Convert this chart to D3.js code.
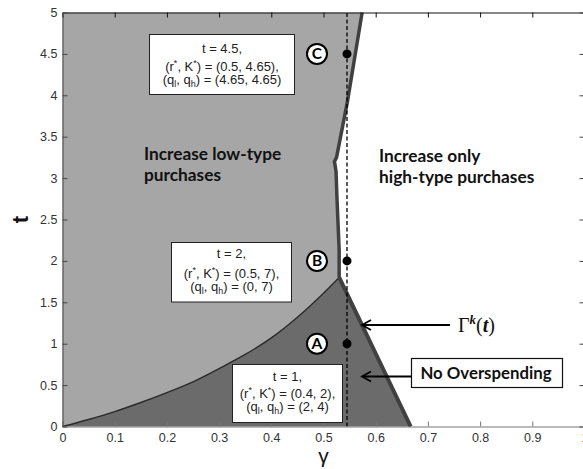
<!DOCTYPE html>
<html>
<head>
<meta charset="utf-8">
<script src="https://cdn.jsdelivr.net/npm/d3@7"></script>
<style>
  html, body { margin: 0; padding: 0; background: #fff; }
  svg { display: block; }
</style>
</head>
<body>
<svg id="chart" width="583" height="469"></svg>
<script>
// ---------- data ----------
const xTickValues = [0, 0.1, 0.2, 0.3, 0.4, 0.5, 0.6, 0.7, 0.8, 0.9, 1];
const xTickLabels = ["0", "0.1", "0.2", "0.3", "0.4", "0.5", "0.6", "0.7", "0.8", "0.9", "1"];
const yTickValues = [0, 0.5, 1, 1.5, 2, 2.5, 3, 3.5, 4, 4.5, 5];
const yTickLabels = ["0", "0.5", "1", "1.5", "2", "2.5", "3", "3.5", "4", "4.5", "5"];

// lower boundary (dark region top): gamma -> t
const lowerGamma = [0, 0.05, 0.1, 0.15, 0.2, 0.25, 0.3, 0.35, 0.4, 0.45, 0.5, 0.53];
const lowerT     = [0, 0.085, 0.18, 0.29, 0.41, 0.54, 0.70, 0.87, 1.07, 1.32, 1.61, 1.80];

// upper boundary (light region right edge), from kink upward
const upperGamma = [0.53, 0.530, 0.526, 0.524, 0.521, 0.525, 0.546, 0.574];
const upperT     = [1.80, 2.13, 2.73, 3.08, 3.20, 3.25, 3.93, 5.0];

// Gamma^k(t) line, from kink down to axis
const gammaLineGamma = [0.53, 0.667];
const gammaLineT     = [1.80, 0];

// scenario points
const pointGamma = [0.545, 0.545, 0.545];
const pointT     = [1, 2, 4.5];
const pointNames = ["A", "B", "C"];
const dashedGamma = 0.545;

// annotation boxes text
const boxT     = ["1", "2", "4.5"];
const boxRK    = ["(0.4, 2),", "(0.5, 7),", "(0.5, 4.65),"];
const boxQ     = ["(2, 4)", "(0, 7)", "(4.65, 4.65)"];

// ---------- layout ----------
const svg = d3.select("#chart");
const x = d3.scaleLinear().domain([0, 1]).range([62.5, 584.5]);
const y = d3.scaleLinear().domain([0, 5]).range([426.5, 12.5]);

const LIGHT = "#a6a6a6", DARK = "#6b6b6b", EDGE = "#404040";

const lowerPts = lowerGamma.map((g, i) => [g, lowerT[i]]);
const upperPts = upperGamma.map((g, i) => [g, upperT[i]]);
const gPts = gammaLineGamma.map((g, i) => [g, gammaLineT[i]]);

const line = d3.line().x(d => x(d[0])).y(d => y(d[1]));
const curveLine = d3.line().x(d => x(d[0])).y(d => y(d[1])).curve(d3.curveMonotoneX);
const lowerPath = curveLine(lowerPts);

// light region: top-left
const lightD = `M${x(0)},${y(5)}L${x(0)},${y(0)}` + lowerPath.replace(/^M/, "L") +
  upperPts.slice(1).map(p => `L${x(p[0])},${y(p[1])}`).join("") + "Z";
svg.append("path").attr("d", lightD).attr("fill", LIGHT);

// dark region
const darkD = lowerPath + `L${x(gPts[1][0])},${y(gPts[1][1])}L${x(0)},${y(0)}Z`;
svg.append("path").attr("d", darkD).attr("fill", DARK);

// lower curve
svg.append("path")
  .attr("d", lowerPath)
  .attr("fill", "none").attr("stroke", "#2a2a2a").attr("stroke-width", 1.4);

// upper boundary thick line
svg.append("path")
  .attr("d", line(upperPts))
  .attr("fill", "none").attr("stroke", EDGE).attr("stroke-width", 3.5)
  .attr("stroke-linejoin", "miter");

// Gamma line
svg.append("path")
  .attr("d", line(gPts))
  .attr("fill", "none").attr("stroke", EDGE).attr("stroke-width", 4);

// dashed vertical line
svg.append("line")
  .attr("x1", x(dashedGamma)).attr("x2", x(dashedGamma))
  .attr("y1", y(0)).attr("y2", y(5))
  .attr("stroke", "#000").attr("stroke-width", 1.3)
  .attr("stroke-dasharray", "4,2.5");

// ---------- axes ----------
const axisFont = "Liberation Sans, Arial, sans-serif";
function styleAxis(g, color) {
  g.selectAll("path.domain").attr("stroke", color);
  g.selectAll(".tick line").attr("stroke", color);
  g.selectAll(".tick text").attr("fill", "#333").style("font-family", axisFont).style("font-size", "12.5px");
}
const gb = svg.append("g").attr("transform", `translate(0,${y(0)})`)
  .call(d3.axisBottom(x).tickValues(xTickValues).tickFormat((d, i) => xTickLabels[i])
    .tickSizeInner(-5).tickSizeOuter(0).tickPadding(7));
styleAxis(gb, "#777");
const gt = svg.append("g").attr("transform", `translate(0,${y(5)})`)
  .call(d3.axisTop(x).tickValues(xTickValues).tickFormat("").tickSizeInner(-5).tickSizeOuter(0));
styleAxis(gt, "#111");
const gl = svg.append("g").attr("transform", `translate(${x(0)},0)`)
  .call(d3.axisLeft(y).tickValues(yTickValues).tickFormat((d, i) => yTickLabels[i])
    .tickSizeInner(-5).tickSizeOuter(0).tickPadding(5));
styleAxis(gl, "#444");
const gr = svg.append("g").attr("transform", `translate(${x(1)},0)`)
  .call(d3.axisRight(y).tickValues(yTickValues).tickFormat("").tickSizeInner(-5).tickSizeOuter(0));
styleAxis(gr, "#444");

// axis titles
svg.append("text").attr("x", (x(0) + x(1)) / 2).attr("y", 463)
  .attr("text-anchor", "middle").style("font-family", "Liberation Sans, Arial, sans-serif")
  .style("font-size", "21px").attr("fill", "#111").text("γ");
svg.append("text").attr("transform", `translate(28,${(y(0) + y(5)) / 2}) rotate(-90)`)
  .attr("text-anchor", "middle").style("font-family", axisFont).style("font-weight", "bold")
  .style("font-size", "22px").attr("fill", "#111").text("t");

// ---------- points ----------
pointGamma.forEach((g, i) => {
  const px = x(g), py = y(pointT[i]);
  svg.append("circle").attr("cx", px).attr("cy", py).attr("r", 4.5).attr("fill", "#000");
  svg.append("circle").attr("cx", px - 30).attr("cy", py).attr("r", 10)
    .attr("fill", "#fff").attr("stroke", "#000").attr("stroke-width", 2);
  svg.append("text").attr("x", px - 30).attr("y", py + 5.5).attr("text-anchor", "middle")
    .style("font-family", "Lato, sans-serif").style("font-weight", "bold").style("font-size", "15.5px")
    .text(pointNames[i]);
});

// ---------- annotation boxes ----------
const boxes = [
  { x0: 232.5, y0: 364.5, w: 110, h: 58, b: [381, 397.5, 411] },
  { x0: 171.5, y0: 242.5, w: 120, h: 59.5, b: [258, 277.5, 291] },
  { x0: 149.5, y0: 34.5, w: 145, h: 60, b: [53, 70.5, 84] }
];
const boxFont = "Liberation Sans, Arial, sans-serif";
boxes.forEach((bx, i) => {
  const cx = bx.x0 + bx.w / 2;
  svg.append("rect").attr("x", bx.x0).attr("y", bx.y0).attr("width", bx.w).attr("height", bx.h)
    .attr("fill", "#fff").attr("stroke", "#222").attr("stroke-width", 1);
  const t1 = svg.append("text").attr("x", cx).attr("y", bx.b[0]).attr("text-anchor", "middle")
    .style("font-family", boxFont).style("font-size", "13px").attr("fill", "#222");
  t1.text("t = " + boxT[i] + ",");
  const t2 = svg.append("text").attr("x", cx).attr("y", bx.b[1]).attr("text-anchor", "middle")
    .style("font-family", boxFont).style("font-size", "13px").attr("fill", "#222");
  t2.append("tspan").text("(r");
  t2.append("tspan").attr("dy", -5).style("font-size", "9px").text("*");
  t2.append("tspan").attr("dy", 5).text(", K");
  t2.append("tspan").attr("dy", -5).style("font-size", "9px").text("*");
  t2.append("tspan").attr("dy", 5).text(") = " + boxRK[i]);
  const t3 = svg.append("text").attr("x", cx).attr("y", bx.b[2]).attr("text-anchor", "middle")
    .style("font-family", boxFont).style("font-size", "13px").attr("fill", "#222");
  t3.append("tspan").text("(q");
  t3.append("tspan").attr("dy", 3).style("font-size", "9px").text("l");
  t3.append("tspan").attr("dy", -3).text(", q");
  t3.append("tspan").attr("dy", 3).style("font-size", "9px").text("h");
  t3.append("tspan").attr("dy", -3).text(") = " + boxQ[i]);
});

// ---------- region labels ----------
const labFont = "Lato, sans-serif";
function label(lines, x0, ys) {
  lines.forEach((s, i) => {
    svg.append("text").attr("x", x0).attr("y", ys[i])
      .style("font-family", labFont).style("font-weight", "bold").style("font-size", "17.3px")
      .attr("fill", "#111").text(s);
  });
}
label(["Increase low-type", "purchases"], 144, [160, 181]);
label(["Increase only", "high-type purchases"], 379, [162, 183]);

// No Overspending box
svg.append("rect").attr("x", 411.5).attr("y", 358.5).attr("width", 151).attr("height", 29)
  .attr("fill", "#fff").attr("stroke", "#111").attr("stroke-width", 1.2);
svg.append("text").attr("x", 486).attr("y", 379).attr("text-anchor", "middle")
  .style("font-family", labFont).style("font-weight", "bold").style("font-size", "16.8px")
  .attr("fill", "#111").text("No Overspending");

// Gamma^k(t) label
const gl2 = svg.append("text").attr("x", 458).attr("y", 331.5)
  .style("font-family", "Liberation Serif, DejaVu Serif, serif").style("font-size", "20px").attr("fill", "#111");
gl2.append("tspan").text("Γ");
gl2.append("tspan").attr("dy", -8).style("font-size", "13px").style("font-weight", "bold").style("font-style", "italic").text("k");
gl2.append("tspan").attr("dy", 8).text("(");
gl2.append("tspan").style("font-weight", "bold").style("font-style", "italic").text("t");
gl2.append("tspan").text(")");

// arrows
function arrow(x1, y1, x2, y2) {
  svg.append("line").attr("x1", x1).attr("y1", y1).attr("x2", x2).attr("y2", y2)
    .attr("stroke", "#000").attr("stroke-width", 1.8);
  svg.append("path").attr("d", `M${x2 + 9},${y2 - 5} L${x2},${y2} L${x2 + 9},${y2 + 5}`)
    .attr("fill", "none").attr("stroke", "#000").attr("stroke-width", 1.8);
}
arrow(450, 325, 362, 325);
arrow(411, 376.5, 362, 376.5);
</script>
</body>
</html>
